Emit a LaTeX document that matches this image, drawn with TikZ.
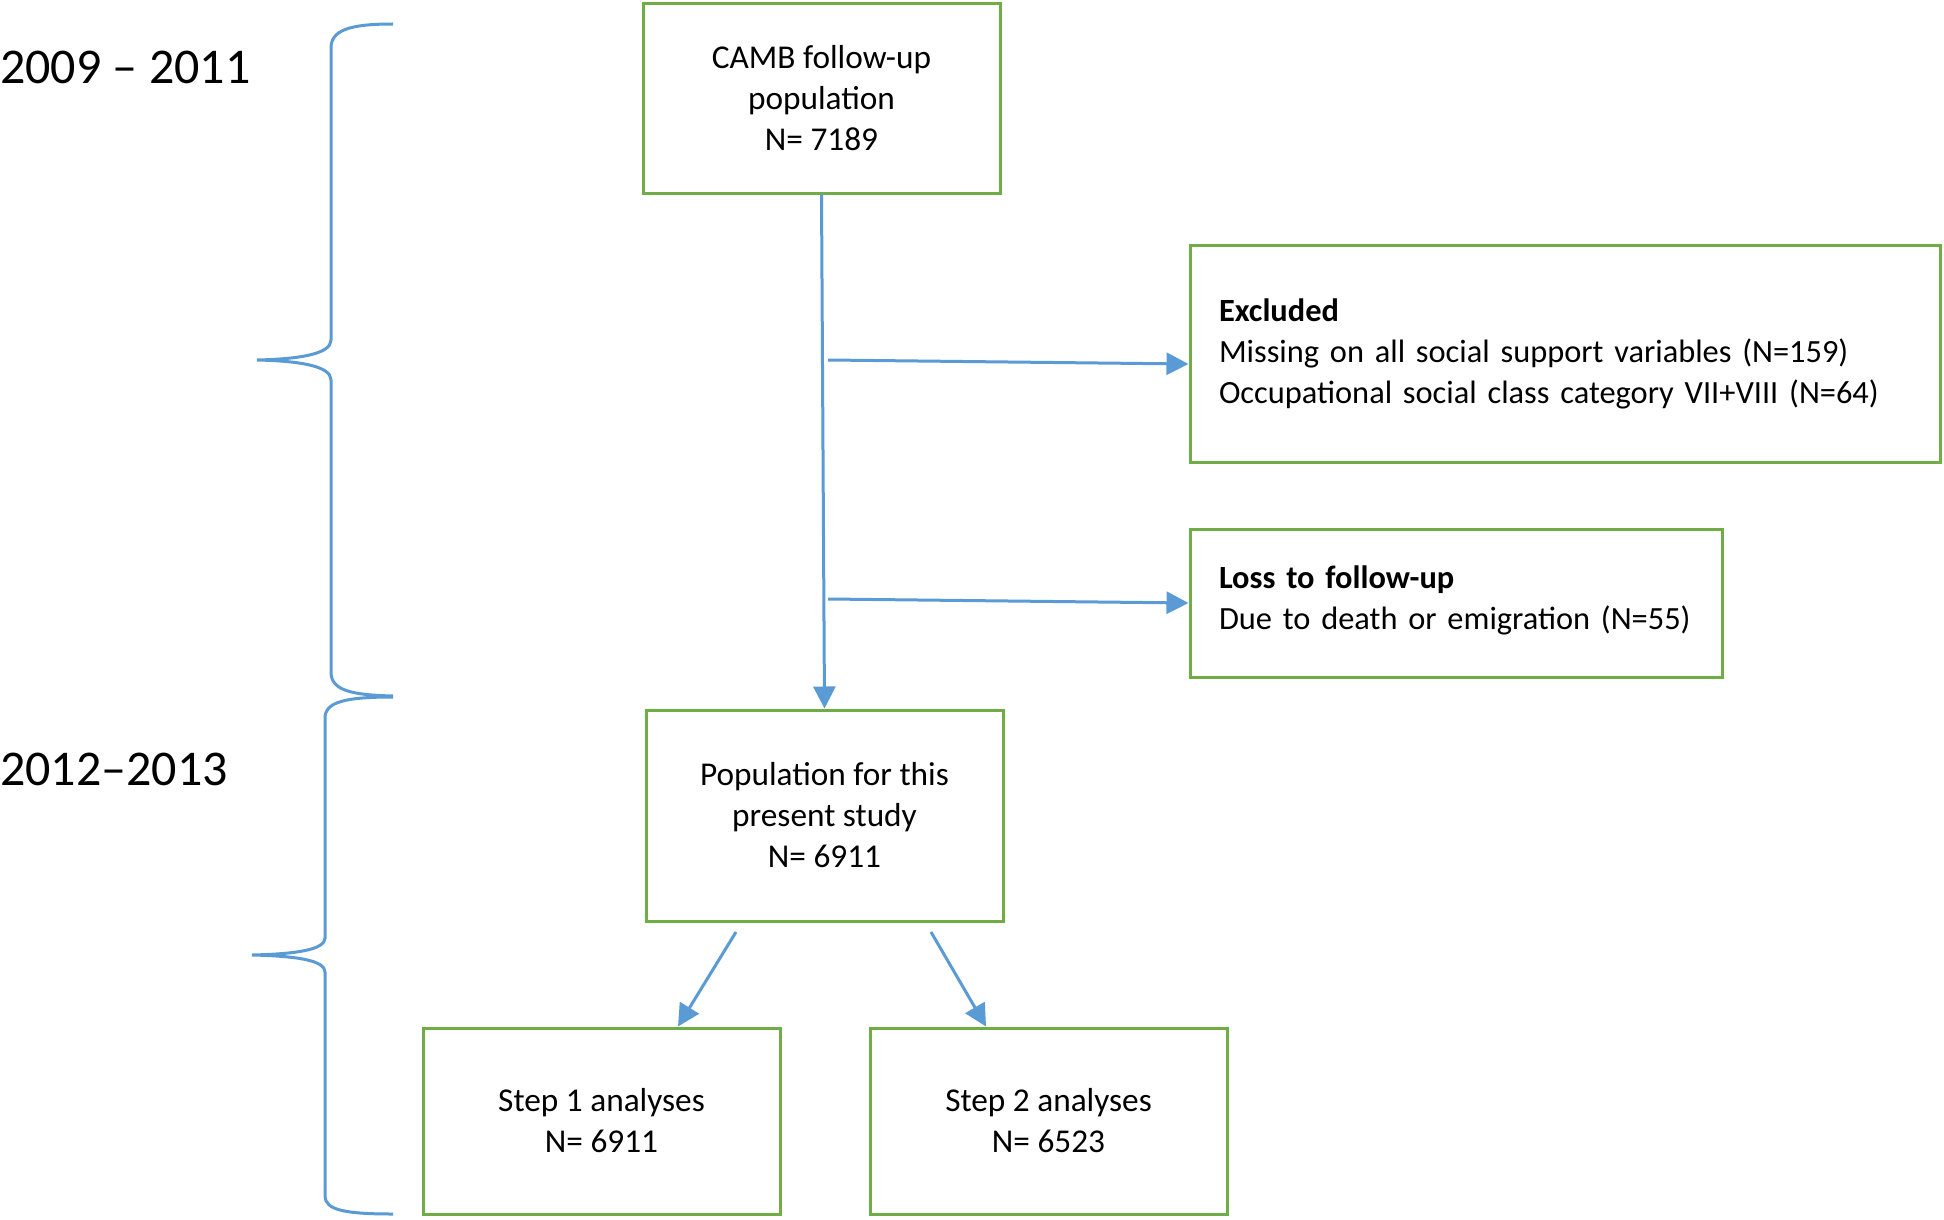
\documentclass[tikz,border=0pt]{standalone}
\usepackage{fontspec}
\setmainfont{Carlito}
\usetikzlibrary{arrows.meta}
\definecolor{lineblue}{HTML}{5B9BD5}
\definecolor{boxgreen}{HTML}{70AD47}
\begin{document}
\begin{tikzpicture}[x=1pt,y=-1pt,
  box/.style={draw=boxgreen,line width=3pt,fill=white,inner sep=0pt,
    font=\fontsize{33.3}{41}\selectfont,align=center},
  leftbox/.style={draw=boxgreen,line width=3pt,fill=white,inner xsep=29pt,inner ysep=0pt,
    font=\fontsize{32.4}{41}\selectfont,align=left},
  conn/.style={draw=lineblue,line width=3pt,-{Triangle[length=22pt,width=22pt]}},
  brace/.style={draw=lineblue,line width=3pt},
  year/.style={anchor=west,inner sep=0pt,font=\fontsize{50}{60}\selectfont}]
\useasboundingbox[fill=white] (0,0) rectangle (1944,1220);

% boxes
\node[box,minimum width=357pt,minimum height=189pt] (top) at (821.5,98.5)
  {CAMB follow-up\\population\\N= 7189};
\node[leftbox,text width=692pt,minimum height=217pt] (excl) at (1565,353.5)
  {\textbf{Excluded}\\\mbox{Missing on all social support variables (N=159)}\\\mbox{Occupational social class category VII+VIII (N=64)}};
\node[leftbox,text width=474pt,minimum height=148pt] (loss) at (1456,603)
  {\textbf{Loss to follow-up}\\\mbox{Due to death or emigration (N=55)}\\[-31pt]\mbox{}};
\node[box,minimum width=357pt,minimum height=211pt] (pop) at (824.5,815.5)
  {Population for this\\present study\\N= 6911};
\node[box,minimum width=357pt,minimum height=186pt] (step1) at (601.5,1121)
  {Step 1 analyses\\N= 6911};
\node[box,minimum width=357pt,minimum height=186pt] (step2) at (1048.5,1121)
  {Step 2 analyses\\N= 6523};

% year labels
\node[year] (y1) at (0,67) {2009 – 2011};
\node[year] (y2) at (0,769) {2012–2013};

% connectors
\coordinate (b1s) at (828,360);
\coordinate (b2s) at (828,599);
\coordinate (d1s) at (736,932);
\coordinate (d2s) at (931,932);
\draw[conn] (top.south) -- (pop.north);
\draw[conn] (b1s) -- ([yshift=-10.5pt]excl.west);
\draw[conn] (b2s) -- (loss.west);
\draw[conn] (d1s) -- ([xshift=76.5pt]step1.north);
\draw[conn] (d2s) -- ([xshift=-62.5pt]step2.north);

% braces
\draw[brace] (393,24) .. controls (350,24) and (331,30) .. (331,48)
  -- (331,340) .. controls (331,354) and (300,359) .. (257,360)
  .. controls (300,361) and (331,366) .. (331,380)
  -- (331,672) .. controls (331,690) and (350,695) .. (393,696);
\draw[brace] (393,697) .. controls (345,697) and (325,702) .. (325,718)
  -- (325,938) .. controls (325,950) and (295,954) .. (252,955)
  .. controls (295,956) and (325,960) .. (325,972)
  -- (325,1196) .. controls (325,1210) and (345,1214) .. (393,1214);
\end{tikzpicture}
\end{document}
